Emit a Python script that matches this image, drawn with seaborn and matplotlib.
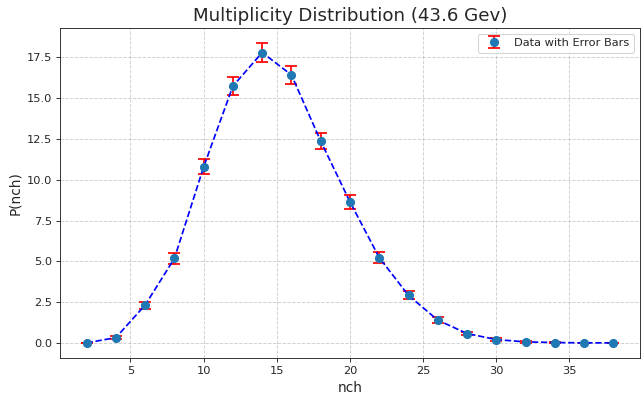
import numpy as np
import matplotlib
matplotlib.use('Agg')
import matplotlib.pyplot as plt
import seaborn as sns

# multiplicity data
nch = [2, 4, 6, 8, 10, 12, 14, 16, 18, 20, 22, 24, 26, 28, 30, 32, 34, 36, 38]
p_nch = [0.02, 0.34, 2.33, 5.18, 10.78, 15.72, 17.77, 16.40, 12.35, 8.64,
         5.23, 2.92, 1.41, 0.59, 0.22, 0.08, 0.04, 0.02, 0.02]
p_err = [0.02, 0.08, 0.21, 0.32, 0.46, 0.55, 0.59, 0.57, 0.49, 0.41,
         0.32, 0.24, 0.17, 0.11, 0.07, 0.04, 0.03, 0.02, 0.02]

sns.set_style('ticks')
plt.rcParams['font.family'] = ['DejaVu Sans']

fig, ax = plt.subplots(figsize=(641 / 82, 398 / 82), dpi=82)

ax.errorbar(nch, p_nch, yerr=p_err, fmt='o', color='tab:blue', ecolor='red',
            markersize=7, elinewidth=1.5, capsize=5, capthick=1.5,
            label='Data with Error Bars')
sns.lineplot(x=nch, y=p_nch, ax=ax, color='blue', linestyle='--', linewidth=1.5)

ax.set_title('Multiplicity Distribution (43.6 Gev)', fontsize=16)
ax.set_xlabel('nch', fontsize=12)
ax.set_ylabel('P(nch)', fontsize=12)
ax.tick_params(labelsize=10)
ax.grid(True, linestyle='--', color='#b0b0b0', alpha=0.6)
ax.legend(loc='upper right', fontsize=10)

fig.subplots_adjust(left=0.094, right=0.998, top=0.93, bottom=0.10)
plt.savefig('out.png')
